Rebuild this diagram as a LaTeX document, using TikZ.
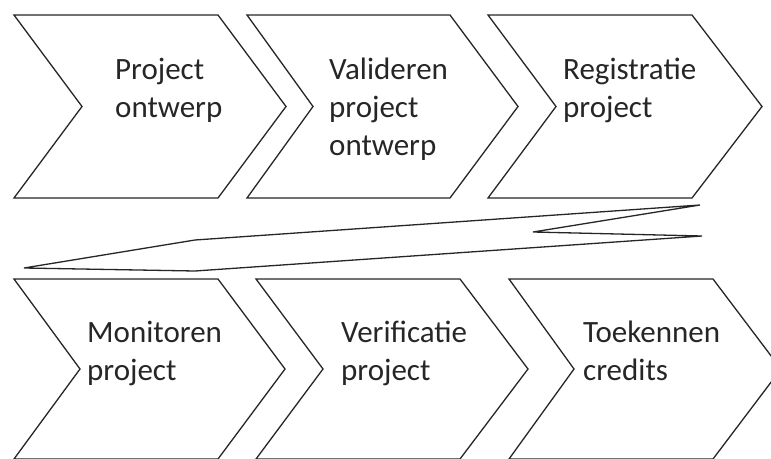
\documentclass[tikz,border=0pt]{standalone}
\usepackage{fontspec}
\newfontfamily\lblfont{Carlito}
\newcommand{\steplines}[1]{\begin{tabular}[t]{@{}l@{}}#1\end{tabular}}
\tikzset{
  outline/.style={draw=black!85, line width=1.3pt, line join=miter, fill=white},
  steptext/.style={anchor=base west, inner sep=0pt, text=black!85,
    font=\lblfont\fontsize{31}{38}\selectfont}
}
\begin{document}
\begin{tikzpicture}[x=1pt, y=-1pt]
  \useasboundingbox (0,0) rectangle (771,458);
  \clip (0,0) rectangle (771,458);

  % top row of chevrons
  \draw[outline] (14,15) -- (218,15) -- (286,106.5) -- (218,198) -- (14,198) -- (82,106.5) -- cycle;
  \draw[outline] (247,15) -- (450,15) -- (518,106.5) -- (450,198) -- (247,198) -- (313,106.5) -- cycle;
  \draw[outline] (488,15) -- (692,15) -- (762,106.5) -- (692,198) -- (488,198) -- (556,106.5) -- cycle;

  % long return arrow between the rows
  \draw[outline] (24,268) -- (195,240) -- (700,205) -- (533,232) -- (702,236) -- (195,271) -- cycle;

  % bottom row of chevrons
  \draw[outline] (14,279) -- (218,279) -- (285,369) -- (218,459) -- (14,459) -- (80,369) -- cycle;
  \draw[outline] (256,279) -- (460,279) -- (528,369) -- (460,459) -- (256,459) -- (323,369) -- cycle;
  \draw[outline] (509,279) -- (713,279) -- (781,369) -- (713,459) -- (509,459) -- (574,369) -- cycle;

  % step labels
  \node[steptext] (s1) at (115,79) {\steplines{Project\\ontwerp}};
  \node[steptext] (s2) at (329,79) {\steplines{Valideren\\project\\ontwerp}};
  \node[steptext] (s3) at (563,79) {\steplines{Registratie\\project}};
  \node[steptext] (s4) at (87,342) {\steplines{Monitoren\\project}};
  \node[steptext] (s5) at (341,342) {\steplines{Verificatie\\project}};
  \node[steptext] (s6) at (583,342) {\steplines{Toekennen\\credits}};
\end{tikzpicture}
\end{document}
